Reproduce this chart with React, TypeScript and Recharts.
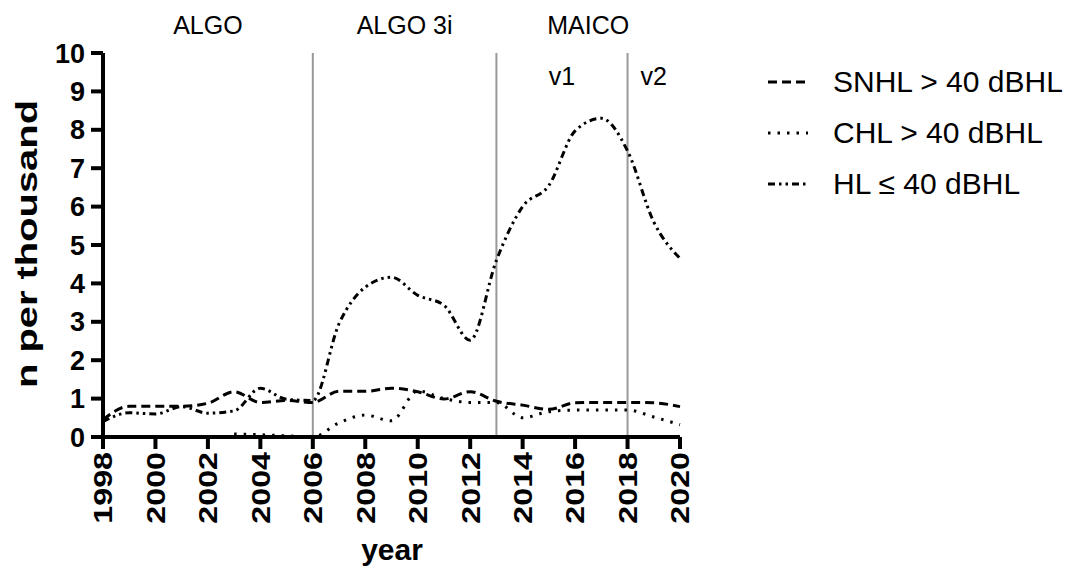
import React from "react";
import {
  LineChart,
  Line,
  XAxis,
  YAxis,
  ReferenceLine,
  ReferenceDot,
  Label,
} from "recharts";

// values (n per thousand)
const years = [
  1998, 1999, 2000, 2001, 2002, 2003, 2004, 2005, 2006, 2007, 2008, 2009,
  2010, 2011, 2012, 2013, 2014, 2015, 2016, 2017, 2018, 2019, 2020,
];
const snhl = [
  0.45, 0.8, 0.8, 0.8, 0.88, 1.18, 0.9, 0.95, 0.9, 1.19, 1.19, 1.27, 1.18,
  0.99, 1.18, 0.93, 0.83, 0.72, 0.89, 0.9, 0.9, 0.89, 0.79,
];
const chl = [
  null, null, null, null, null, 0.08, 0.06, 0.03, 0.0, 0.37, 0.57, 0.42, 1.2,
  1.0, 0.9, 0.9, 0.5, 0.66, 0.7, 0.7, 0.7, 0.52, 0.32,
];
const hl = [
  0.4, 0.63, 0.6, 0.79, 0.62, 0.68, 1.27, 0.98, 0.95, 2.95, 3.9, 4.16, 3.69,
  3.43, 2.52, 4.6, 6.0, 6.55, 7.97, 8.3, 7.45, 5.6, 4.65,
];

const xTicks = [1998, 2000, 2002, 2004, 2006, 2008, 2010, 2012, 2014, 2016, 2018, 2020];
const yTicks = [0, 1, 2, 3, 4, 5, 6, 7, 8, 9, 10];
const deviceChanges = [2006, 2013, 2018];
const periodLabels = [
  { x: 2002, y: 10.72, text: "ALGO" },
  { x: 2009.5, y: 10.72, text: "ALGO 3i" },
  { x: 2016.5, y: 10.72, text: "MAICO" },
  { x: 2015.5, y: 9.4, text: "v1" },
  { x: 2019, y: 9.4, text: "v2" },
];

const data = years.map((year, i) => ({
  year,
  snhl: snhl[i],
  chl: chl[i],
  hl: hl[i],
}));

const series = [
  { key: "snhl", name: "SNHL > 40 dBHL", dash: "9 5" },
  { key: "chl", name: "CHL > 40 dBHL", dash: "2.5 7" },
  { key: "hl", name: "HL \u2264 40 dBHL", dash: "7 4 2.5 4 2.5 4" },
];

const FONT = "'Liberation Sans', Arial, Helvetica, sans-serif";

// rotated labels in the figure are drawn a bit stretched along their length
const XTick = ({ x, y, payload }: any) => (
  <text
    x={0}
    y={0}
    transform={`translate(${x} ${y}) rotate(-90) scale(1.24 1)`}
    textAnchor="end"
    dominantBaseline="central"
    fontFamily={FONT}
    fontWeight="bold"
    fontSize={26}
    fill="#000"
  >
    {payload.value}
  </text>
);

const LegendBox = () => (
  <div style={{ position: "absolute", left: 762, top: 56 }}>
    {series.map((s) => (
      <div
        key={s.key}
        style={{ display: "flex", alignItems: "center", height: 51 }}
      >
        <svg width={50} height={10}>
          <line
            x1={6}
            y1={5}
            x2={46}
            y2={5}
            stroke="#000"
            strokeWidth={3}
            strokeDasharray={s.dash}
          />
        </svg>
        <span
          style={{
            marginLeft: 21,
            fontFamily: FONT,
            fontSize: 30,
            color: "#000",
            whiteSpace: "nowrap",
          }}
        >
          {s.name}
        </span>
      </div>
    ))}
  </div>
);

export default function App() {
  return (
    <div
      style={{
        position: "absolute",
        left: 0,
        top: 0,
        width: 1072,
        height: 569,
        background: "#fff",
      }}
    >
      <LineChart
        width={1072}
        height={569}
        data={data}
        margin={{ top: 53, right: 392, bottom: 0, left: 0 }}
      >
        <XAxis
          dataKey="year"
          type="number"
          domain={[1998, 2020]}
          ticks={xTicks}
          interval={0}
          height={132}
          axisLine={{ stroke: "#000", strokeWidth: 4 }}
          tickLine={{ stroke: "#000", strokeWidth: 4 }}
          tickSize={12}
          tickMargin={3}
          tick={<XTick />}
        >
          <Label
            content={() => (
              <text
                x={392}
                y={549}
                textAnchor="middle"
                dominantBaseline="central"
                fontFamily={FONT}
                fontWeight="bold"
                fontSize={30}
                fill="#000"
              >
                year
              </text>
            )}
          />
        </XAxis>
        <YAxis
          type="number"
          domain={[0, 10]}
          ticks={yTicks}
          interval={0}
          width={103}
          axisLine={{ stroke: "#000", strokeWidth: 4 }}
          tickLine={{ stroke: "#000", strokeWidth: 4 }}
          tickSize={12}
          tickMargin={6}
          tick={{
            fill: "#000",
            fontFamily: FONT,
            fontWeight: "bold",
            fontSize: 27,
          }}
        >
          <Label
            content={() => (
              <text
                x={0}
                y={0}
                transform="translate(26 244) rotate(-90) scale(1.33 1)"
                textAnchor="middle"
                dominantBaseline="central"
                fontFamily={FONT}
                fontWeight="bold"
                fontSize={30}
                fill="#000"
              >
                n per thousand
              </text>
            )}
          />
        </YAxis>
        {deviceChanges.map((x) => (
          <ReferenceLine key={x} x={x} stroke="#999" strokeWidth={2} />
        ))}
        {periodLabels.map((p) => (
          <ReferenceDot
            key={p.text}
            x={p.x}
            y={p.y}
            r={0}
            fill="none"
            stroke="none"
            ifOverflow="visible"
            label={{
              value: p.text,
              position: "center",
              fill: "#000",
              fontSize: 25,
              fontFamily: FONT,
            }}
          />
        ))}
        {series.map((s) => (
          <Line
            key={s.key}
            dataKey={s.key}
            name={s.name}
            type="monotone"
            stroke="#000"
            strokeWidth={3}
            strokeDasharray={s.dash}
            dot={false}
            activeDot={false}
            connectNulls={false}
            isAnimationActive={false}
          />
        ))}
      </LineChart>
      <LegendBox />
    </div>
  );
}
